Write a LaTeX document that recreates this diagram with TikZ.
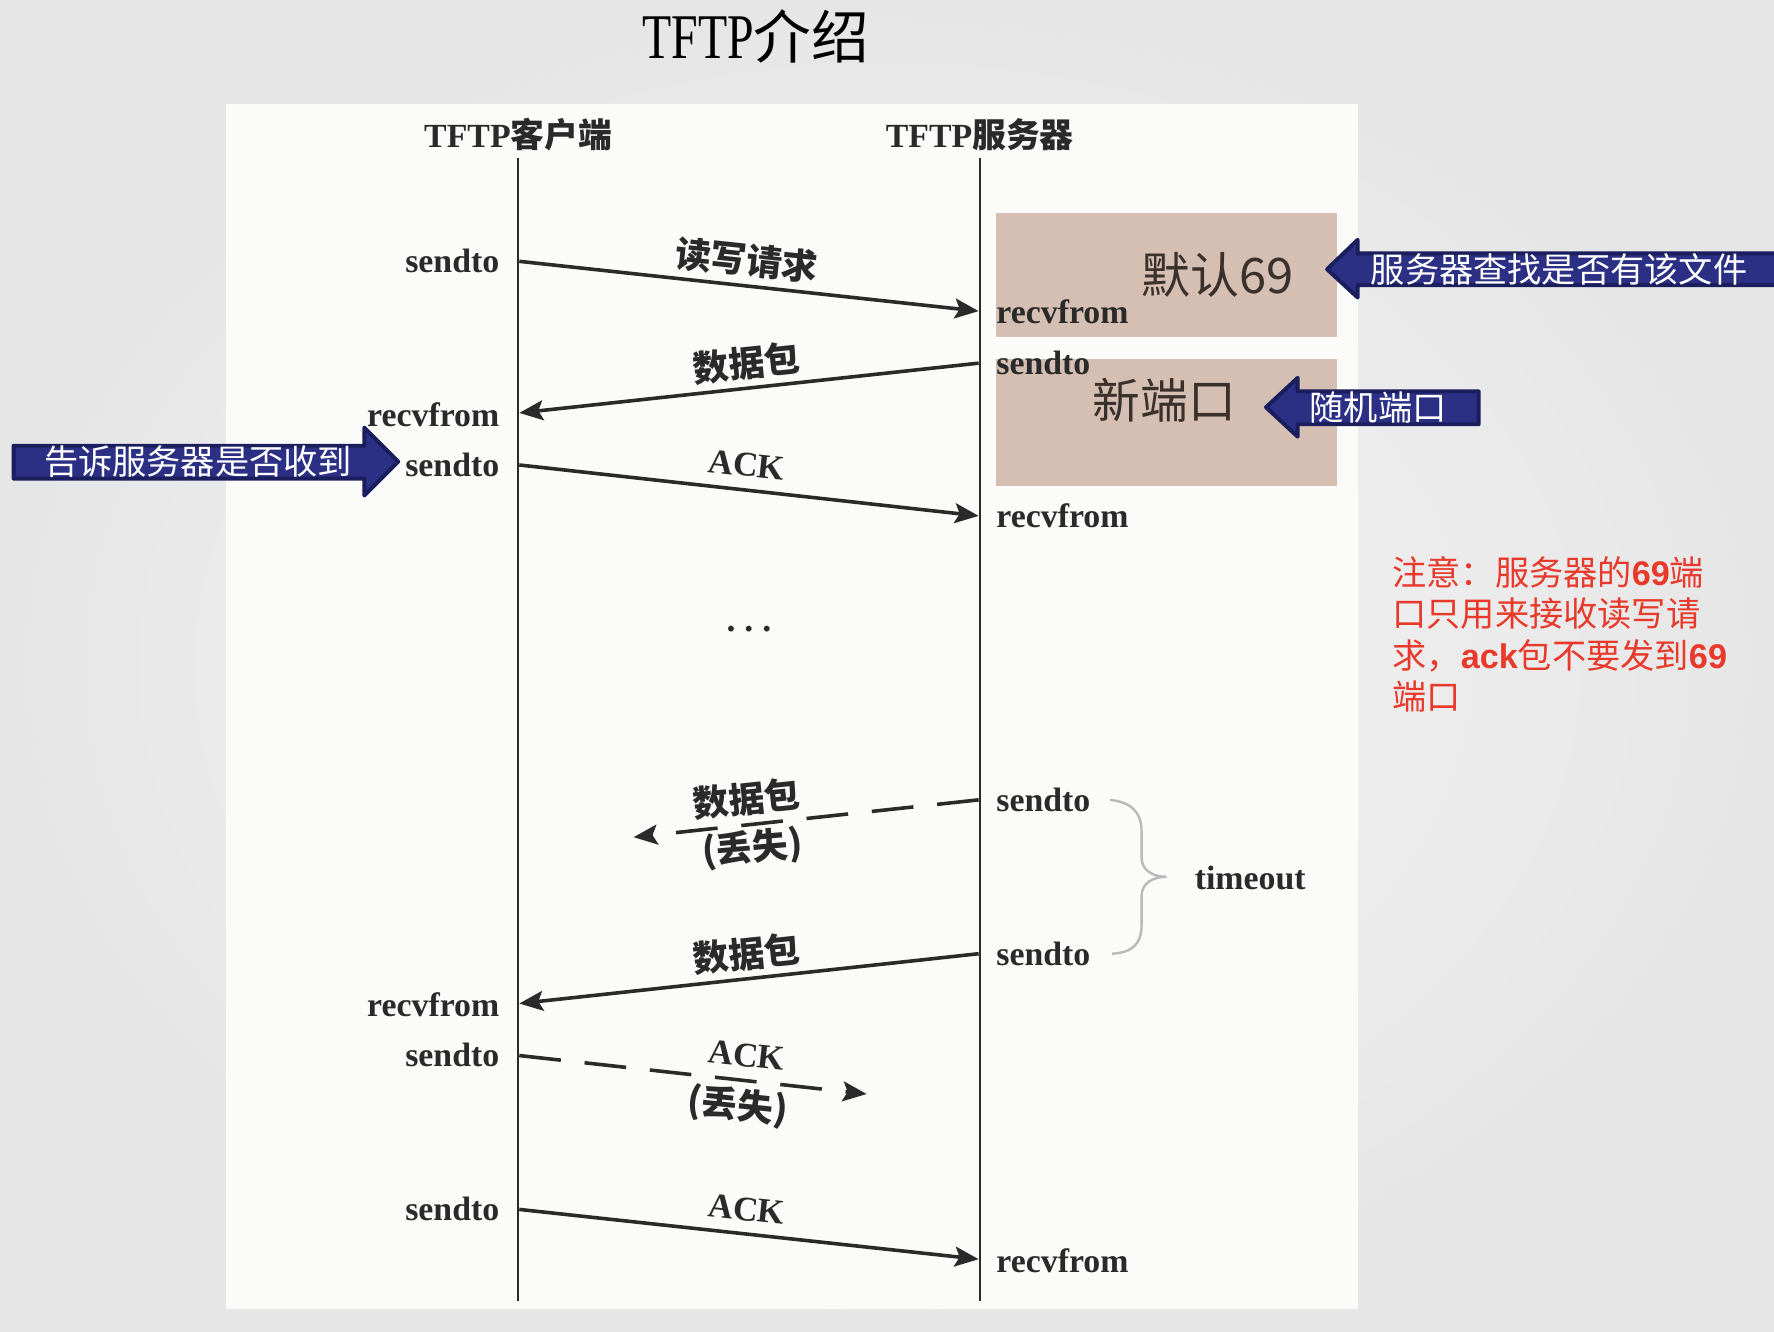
\documentclass[tikz,border=0pt]{standalone}
\usepackage{graphicx}
\usepackage{fontspec}
\setmainfont{Liberation Serif}
\newfontfamily\cjk{Noto Sans CJK SC}
\newfontfamily\lsans{Liberation Sans}
\usetikzlibrary{arrows.meta}
\definecolor{bgin}{HTML}{F6F6F6}
\definecolor{bgout}{HTML}{E6E6E6}
\definecolor{panelc}{HTML}{FBFBFA}
\definecolor{tanc}{HTML}{D5BFB2}
\definecolor{navy}{HTML}{2C3085}
\definecolor{navyd}{HTML}{1B1E5C}
\definecolor{notec}{HTML}{E8392B}
\definecolor{ink}{HTML}{2A2A2A}
\definecolor{boxtext}{HTML}{3A302C}
\begin{document}
\begin{tikzpicture}[x=0.01cm,y=-0.01cm,
  lbl/.style={font=\fontsize{8.5}{10}\selectfont\bfseries, text=ink, inner sep=0pt},
  cj/.style={font=\fontsize{9}{10}\selectfont\cjk\bfseries, text=ink, inner sep=0pt},
  ackl/.style={font=\fontsize{8.7}{10}\selectfont\bfseries, text=ink, inner sep=0pt},
  msg/.style={draw=ink, line width=0.9pt, -{Stealth[length=6pt,width=5pt,inset=1.2pt]}},
  lost/.style={msg, dash pattern=on 10.5pt off 6pt},
  life/.style={draw=ink, line width=0.6pt},
  tanbox/.style={fill=tanc},
  bluearrow/.style={fill=navy, draw=navyd, line width=1pt, line join=round},
  bluetext/.style={font=\fontsize{8.6}{10}\selectfont\cjk, text=white, inner sep=0pt},
]
\useasboundingbox (0,0) rectangle (1568,1177);
\shade[inner color=bgin, outer color=bgout] (0,0) rectangle (1568,1177);
\fill[panelc] (200,92) rectangle (1200,1157);

% title
\node[anchor=base, inner sep=0pt] (title) at (668,52)
  {\fontsize{16}{18}\selectfont\scalebox{0.75}[1]{TFTP}{\cjk\fontsize{14.5}{16}\selectfont 介绍}};

% headers
\node[anchor=base, inner sep=0pt, font=\fontsize{8.5}{10}\selectfont\bfseries, text=ink] (hc) at (458,130) {TFTP{\cjk 客户端}};
\node[anchor=base, inner sep=0pt, font=\fontsize{8.5}{10}\selectfont\bfseries, text=ink] (hs) at (866,130) {TFTP{\cjk 服务器}};

% lifelines
\coordinate (ct) at (458,140); \coordinate (cb) at (458,1150);
\coordinate (st) at (866,140); \coordinate (sb) at (866,1150);

% tan boxes
\fill[tanbox] (880,188) rectangle (1182,298);
\fill[tanbox] (880,317) rectangle (1182,430);
\node[inner sep=0pt, font=\fontsize{12.3}{14}\selectfont\cjk, text=boxtext] (def69) at (1076,243) {默认69};
\node[inner sep=0pt, font=\fontsize{12}{14}\selectfont\cjk, text=boxtext] (newport) at (1029,354) {新端口};

\draw[life] (ct) -- (cb);
\draw[life] (st) -- (sb);

% message endpoints
\coordinate (a1s) at (459,231); \coordinate (a1e) at (865,275);
\coordinate (a2s) at (865,321); \coordinate (a2e) at (459,365);
\coordinate (a3s) at (459,411); \coordinate (a3e) at (865,456);
\coordinate (a4s) at (865,707); \coordinate (a4e) at (560,740);
\coordinate (a5s) at (865,843); \coordinate (a5e) at (459,887);
\coordinate (a6s) at (459,933); \coordinate (a6e) at (766,967);
\coordinate (a7s) at (459,1069); \coordinate (a7e) at (865,1113);

\draw[msg] (a1s) -- (a1e);
\draw[msg] (a2s) -- (a2e);
\draw[msg] (a3s) -- (a3e);
\draw[lost] (a4s) -- (a4e);
\draw[msg] (a5s) -- (a5e);
\draw[lost] (a6s) -- (a6e);
\draw[msg] (a7s) -- (a7e);

% message labels
\node[cj, rotate=-6] (m1) at (660,230) {读写请求};
\node[cj, rotate=6] (m2) at (660,321) {数据包};
\node[ackl, rotate=-6] (m3) at (660,411) {ACK};
\node[lbl, font=\fontsize{9}{10}\selectfont\bfseries] (dots) at (662,556) {.\hspace{0.25em}.\hspace{0.25em}.};
\node[cj, rotate=6] (m4) at (660,706) {数据包};
\node[cj, rotate=5] (m4b) at (665,750) {(丢失)};
\node[cj, rotate=6] (m5) at (660,843) {数据包};
\node[ackl, rotate=-6] (m6) at (660,933) {ACK};
\node[cj, rotate=-6] (m6b) at (652,978) {(丢失)};
\node[ackl, rotate=-6] (m7) at (660,1069) {ACK};

% endpoint labels left
\node[lbl, anchor=mid east] (l1) at (442,233) {sendto};
\node[lbl, anchor=mid east] (l2) at (442,369) {recvfrom};
\node[lbl, anchor=mid east] (l3) at (442,413) {sendto};
\node[lbl, anchor=mid east] (l5) at (442,890) {recvfrom};
\node[lbl, anchor=mid east] (l6) at (442,935) {sendto};
\node[lbl, anchor=mid east] (l7) at (442,1071) {sendto};
% endpoint labels right
\node[lbl, anchor=mid west] (r1) at (880,278) {recvfrom};
\node[lbl, anchor=mid west] (r2) at (880,323) {sendto};
\node[lbl, anchor=mid west] (r3) at (880,458) {recvfrom};
\node[lbl, anchor=mid west] (r4) at (880,709) {sendto};
\node[lbl, anchor=mid west] (r5) at (880,845) {sendto};
\node[lbl, anchor=mid west] (r7) at (880,1117) {recvfrom};

% timeout brace
\draw[gray!55, line width=0.6pt] (981,707) .. controls (1000,709) and (1009,718) .. (1009,735)
  -- (1009,758) .. controls (1009,770) and (1020,775) .. (1031,775)
  .. controls (1020,775) and (1009,780) .. (1009,792)
  -- (1009,818) .. controls (1009,835) and (1000,842) .. (983,843);
\node[lbl, anchor=mid] (timeout) at (1105,778) {timeout};

% blue callout arrows
\draw[bluearrow] (1173,238) -- (1200,212) -- (1200,224) -- (1580,224) -- (1580,252) -- (1200,252) -- (1200,263) -- cycle;
\node[bluetext] (c1) at (1378,238) {服务器查找是否有该文件};
\draw[bluearrow] (1119,360) -- (1147,334) -- (1147,346) -- (1307,346) -- (1307,375) -- (1147,375) -- (1147,386) -- cycle;
\node[bluetext] (c2) at (1218,360) {随机端口};
\draw[bluearrow] (12,394) -- (322,394) -- (322,378) -- (352,408) -- (322,438) -- (322,423) -- (12,423) -- cycle;
\node[bluetext] (c3) at (175,408) {告诉服务器是否收到};

% red note
\node[anchor=north west, inner sep=0pt, align=left, text=notec,
      font=\fontsize{8.6}{10.4}\selectfont\cjk] (note) at (1230,491)
  {注意：服务器的{\lsans\bfseries 69}端\\口只用来接收读写请\\求，{\lsans\bfseries ack}包不要发到{\lsans\bfseries 69}\\端口};
\end{tikzpicture}
\end{document}
